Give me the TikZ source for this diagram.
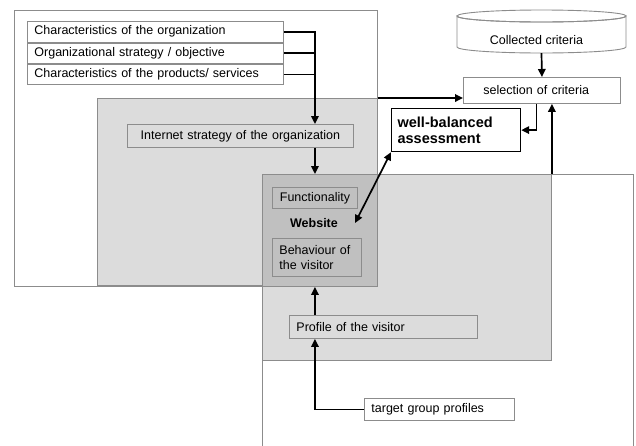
\documentclass[tikz,border=0pt]{standalone}
\usepackage{fontspec}
\setmainfont{Liberation Sans}
\usetikzlibrary{arrows.meta}
\definecolor{bordergray}{HTML}{8C8C8C}
\definecolor{lightfill}{HTML}{DCDCDC}
\definecolor{darkfill}{HTML}{C0C0C0}
\begin{document}
\begin{tikzpicture}[x=1pt,y=-1pt,
  font=\fontsize{12.5}{15}\selectfont,
  region/.style={draw=bordergray, line width=0.9pt, anchor=north west, inner sep=0pt},
  tbox/.style={draw=bordergray, line width=0.9pt, anchor=north west, inner xsep=7pt, inner ysep=0pt, align=left},
  conn/.style={line width=1.7pt},
  arr/.style={conn, -{Triangle[length=8pt,width=7.5pt]}},
  darr/.style={conn, {Triangle[length=8pt,width=7.5pt]}-{Triangle[length=8pt,width=7.5pt]}},
  boldtxt/.style={font=\fontsize{12.5}{15}\selectfont\bfseries, inner sep=0pt},
]
\useasboundingbox (0,0) rectangle (636,445);
\fill[white] (0,0) rectangle (636,445);

% large regions
\node[region, fill=white, minimum width=363pt, minimum height=276pt] (org) at (14,10) {};
\draw[draw=bordergray, line width=0.9pt] (262,446) -- (262,174) -- (633,174) -- (633,446);
\node[region, fill=lightfill, minimum width=280pt, minimum height=187pt] (inet) at (97,98) {};
\node[region, fill=lightfill, minimum width=289pt, minimum height=186pt] (vis) at (262,174) {};
\node[region, fill=darkfill, minimum width=115pt, minimum height=112pt] (web) at (262,174) {};

% organization boxes
\node[tbox, fill=white, text width=242pt, minimum height=20.5pt] (c1) at (27,21) {Characteristics of the organization};
\node[tbox, fill=white, text width=242pt, minimum height=19.5pt] (c2) at (27,43) {Organizational strategy / objective};
\node[tbox, fill=white, text width=242pt, minimum height=20pt] (c3) at (27,64) {Characteristics of the products/ services};

\node[tbox, align=center, text width=212pt, minimum height=23pt] (is) at (127,124) {Internet strategy of the organization};

% website
\node[tbox, align=center, inner xsep=4pt, text width=77pt, minimum height=21pt] (fn) at (272,187) {Functionality};
\node[boldtxt] (wlab) at (314,223) {Website};
\node[tbox, text width=75pt, minimum height=38pt] (bh) at (272,238) {Behaviour of\\the visitor};

\node[tbox, text width=174pt, minimum height=23pt] (pv) at (289,315) {Profile of the visitor};
\node[tbox, fill=white, text width=136pt, minimum height=22pt] (tg) at (364,398) {target group profiles};

% criteria
\draw[draw=bordergray, line width=0.9pt, fill=white] (457,16) -- (457,47)
  arc[start angle=180, end angle=360, x radius=84.5pt, y radius=6pt] -- (626,16)
  arc[start angle=0, end angle=-180, x radius=84.5pt, y radius=6pt] -- cycle;
\draw[draw=bordergray, line width=0.9pt] (541.5,16) ellipse [x radius=84.5pt, y radius=6pt];
\node[inner sep=0pt, minimum width=169pt, minimum height=43pt] (cc) at (541.5,31.5) {};
\node[inner sep=0pt] (cclab) at (536.5,40) {Collected criteria};

\node[tbox, fill=white, text width=143pt, minimum height=26pt] (sel) at (463,77) {\hspace*{13pt}selection of criteria};
\node[tbox, draw=black, line width=1.2pt, fill=white, inner xsep=6pt, text width=117pt, minimum height=43pt,
  font=\fontsize{14.5}{16}\selectfont\bfseries] (wb) at (391,108) {well-balanced\\assessment};

% connectors
\draw[conn] (c2.east) -- (c2.east -| fn.north);
\draw[conn] (c3.east) -- (c3.east -| fn.north);
\draw[arr] (c1.east) -| (is.north -| fn.north);
\draw[arr] (is.south -| fn.north) -- (web.north -| fn.north);
\draw[arr] (inet.north east) -- (inet.north east -| sel.west);
\draw[arr] (cc.south) -- (sel.north);
\draw[arr] ([xshift=-5.5pt]sel.south) |- (wb.east);
\draw[arr] (vis.north east) -- (vis.north east |- sel.south);
\draw[darr] (wb.south west) -- ([xshift=17pt]wlab.east);
\draw[arr] (pv.north -| fn.north) -- (web.south -| fn.north);
\draw[arr] (tg.west) -| (pv.south -| fn.north);
\end{tikzpicture}
\end{document}
